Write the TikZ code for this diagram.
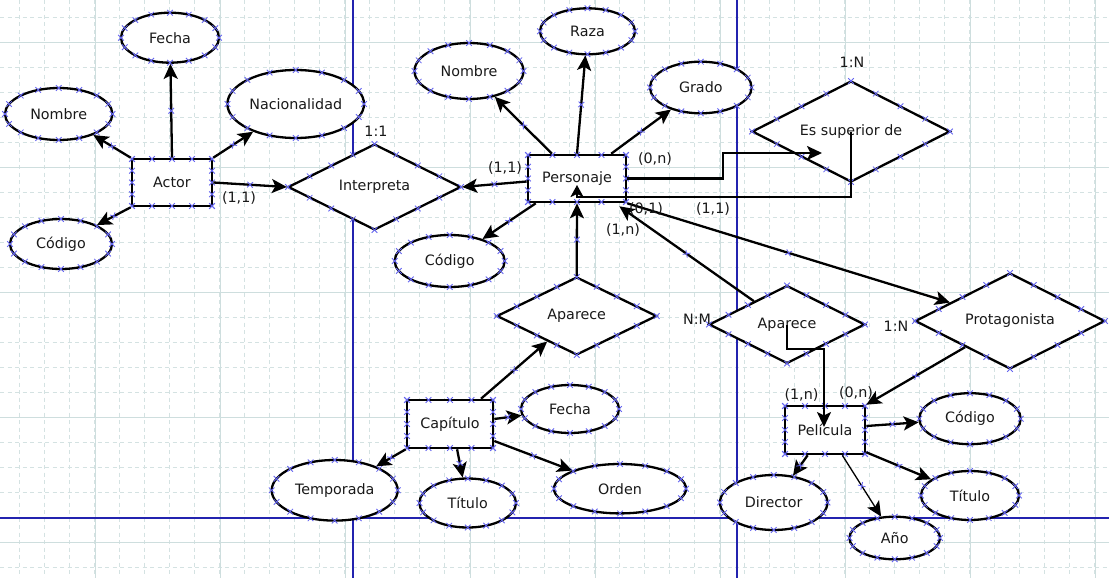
\documentclass[tikz,border=0pt]{standalone}
\usepackage{fontspec}
\setmainfont{DejaVu Sans}
\usetikzlibrary{shapes.geometric,arrows.meta,calc,decorations.markings}
\definecolor{gridc}{RGB}{206,222,222}
\definecolor{griddc}{RGB}{212,226,226}
\definecolor{pageb}{RGB}{35,35,175}
\definecolor{markc}{RGB}{100,100,240}
\tikzset{
  xmark/.style={draw=markc,line width=0.85pt,-,solid},
  xm/.pic={\draw[xmark] (-2.8pt,-2.8pt)--(2.8pt,2.8pt) (-2.8pt,2.8pt)--(2.8pt,-2.8pt);},
  txt/.style={font=\fontsize{14.3}{17}\selectfont, text=black!90},
  attr/.style={ellipse, draw, line width=2.3pt, fill=white, inner sep=0pt, txt},
  ent/.style={rectangle, draw, line width=2.6pt, fill=white, inner sep=0pt, txt},
  rel/.style={diamond, aspect=2, draw, line width=2.3pt, fill=white, inner sep=0pt, txt},
  lab/.style={inner sep=0pt, txt},
  arr/.style={line width=2.3pt, -{Stealth[length=15pt,width=14pt,inset=3.5pt]}},
  mx/.style={postaction={decorate,decoration={markings,mark=at position 0.5 with {\draw[xmark] (-2.8pt,-2.8pt)--(2.8pt,2.8pt) (-2.8pt,2.8pt)--(2.8pt,-2.8pt);}}}},
  gridsolid/.style={draw=gridc,line width=0.9pt},
  griddash/.style={draw=griddc,line width=0.8pt,dash pattern=on 4pt off 3.5pt},
}
\newcommand\myell[6]{%
  \node[attr,minimum width={2*#4},minimum height={2*#5}] (#1) at (#2,#3) {#6};
  \foreach \t in {0,22.5,...,337.5} \pic at ({#2+#4*cos(\t)},{#3+#5*sin(\t)}) {xm};}
\newcommand\myrect[6]{%
  \node[ent,minimum width={#4},minimum height={#5}] (#1) at (#2,#3) {#6};
  \foreach \i in {0,1,2,3,4} {
    \pic at ({#2-#4/2+#4*\i/4},{#3-#5/2}) {xm};
    \pic at ({#2-#4/2+#4*\i/4},{#3+#5/2}) {xm};
    \pic at ({#2-#4/2},{#3-#5/2+#5*\i/4}) {xm};
    \pic at ({#2+#4/2},{#3-#5/2+#5*\i/4}) {xm};}}
\newcommand\mydia[6]{%
  \node[rel,minimum width={2*#4},minimum height={2*#5}] (#1) at (#2,#3) {#6};
  \foreach \j in {0,1,2,3} {
    \pic at ({#2+#4*(1-\j/4)},{#3-#5*\j/4}) {xm};
    \pic at ({#2-#4*\j/4},{#3-#5*(1-\j/4)}) {xm};
    \pic at ({#2-#4*(1-\j/4)},{#3+#5*\j/4}) {xm};
    \pic at ({#2+#4*\j/4},{#3+#5*(1-\j/4)}) {xm};}}
\begin{document}
\begin{tikzpicture}[x=1pt,y=-1pt]
\fill[white] (0,0) rectangle (1109,578);
\useasboundingbox (0,0) rectangle (1109,578);
% grid
\foreach \i in {0,...,44} \draw[griddash] ({19.5+25*\i},0) -- ({19.5+25*\i},578);
\foreach \i in {0,...,23} \draw[griddash] (0,{17.3+25*\i}) -- (1109,{17.3+25*\i});
\foreach \i in {0,...,8} \draw[gridsolid] ({95+125*\i},0) -- ({95+125*\i},578);
\foreach \i in {0,...,4} \draw[gridsolid] (0,{42.3+125*\i}) -- (1109,{42.3+125*\i});
% page breaks
\draw[pageb,line width=1.3pt] (353,0) -- (353,578) (737,0) -- (737,578) (0,518) -- (1109,518);

% entities
\myrect{actor}{172}{182.5}{80}{47}{Actor}
\myrect{pers}{577}{178.5}{98}{47}{Personaje}
\myrect{cap}{450}{424}{86}{48}{Capítulo}
\myrect{pel}{825}{430}{80}{48}{Película}

% attributes
\myell{afecha}{170}{37.7}{49}{25}{Fecha}
\myell{anombre}{58.7}{114}{53.7}{26}{Nombre}
\myell{anac}{295.7}{104}{68.3}{34}{Nacionalidad}
\myell{acod}{61}{244}{51}{25}{Código}
\myell{pnombre}{469}{71}{54.5}{28}{Nombre}
\myell{praza}{587.5}{31.3}{47.5}{23}{Raza}
\myell{pgrado}{700.8}{87.5}{50.8}{25.8}{Grado}
\myell{pcod}{449.7}{261}{55}{26}{Código}
\myell{cfecha}{570}{409}{49}{24}{Fecha}
\myell{corden}{620}{488.7}{66}{24.7}{Orden}
\myell{ctit}{467.7}{503}{48.3}{24.5}{Título}
\myell{ctemp}{334.7}{490.3}{63}{30.3}{Temporada}
\myell{mcod}{970}{418.7}{50.7}{25.5}{Código}
\myell{mtit}{970}{495.5}{49}{24.5}{Título}
\myell{mano}{894.7}{538}{45.3}{21.3}{Año}
\myell{mdir}{773.7}{502.5}{53.7}{27.5}{Director}

% relationships
\mydia{interp}{374.5}{187}{86.5}{43}{Interpreta}
\mydia{esup}{851}{131.5}{99}{50.5}{Es superior de}
\mydia{apar1}{576.7}{316}{80}{39}{Aparece}
\mydia{apar2}{787}{324.5}{78}{39}{Aparece}
\mydia{prot}{1010}{321}{95}{48}{Protagonista}

% connectors: Actor
\draw[arr,mx] (actor.north) -- (afecha);
\draw[arr,mx] (actor.north west) -- (anombre);
\draw[arr,mx] (actor.north east) -- (anac);
\draw[arr,mx] (actor.south west) -- (acod);
\draw[arr,mx] (actor.east) -- (interp.west);
% Personaje
\draw[arr,mx] ([yshift=-3pt]pers.west) -- (interp.east);
\draw[arr,mx] ($(pers.north west)!0.25!(pers.north east)$) -- (pnombre);
\draw[arr,mx] (pers.north) -- (praza);
\draw[arr,mx] ($(pers.north west)!0.84!(pers.north east)$) -- (pgrado);
\draw[arr,mx] ($(pers.south west)!0.09!(pers.south east)$) -- (pcod);
\coordinate (b1) at (723,153);
\coordinate (esin) at (822,153);
\draw[arr] (pers.east) -| (b1) -- (esin);
\coordinate (b2) at (851,197);
\coordinate (persin) at (577,185);
\draw[line width=2.3pt,-{Stealth[length=12pt,width=13pt,inset=3pt]}] (esup.center) -- (b2) -| (persin);
\draw[arr,mx] (pers.south east) -- (prot);
\draw[arr,mx] (apar2) -- ([xshift=-8pt,yshift=-3pt]pers.south east);
\draw[arr,mx] (apar1.north) -- (pers.south);
% Pelicula
\coordinate (b3) at (787,349);
\coordinate (pelin) at (824,427);
\draw[arr] (apar2.center) -- (b3) -| (pelin);
\draw[arr,mx] (prot) -- (pel.north east);
\draw[arr,mx] ([yshift=4pt]pel.east) -- (mcod);
\draw[arr,mx] ([yshift=3pt]pel.south east) -- (mtit);
\draw[arr,mx,line width=1.3pt] ($(pel.south west)!0.71!(pel.south east)$) -- (mano);
\draw[arr,mx] ($(pel.south west)!0.29!(pel.south east)$) -- (mdir);
% Capitulo
\draw[arr,mx] ($(cap.north west)!0.85!(cap.north east)$) -- (apar1);
\draw[arr,mx] ([yshift=5pt]cap.east) -- (cfecha);
\draw[arr,mx] ([yshift=-17pt]cap.east) -- (corden);
\draw[arr,mx] ($(cap.south west)!0.58!(cap.south east)$) -- (ctit);
\draw[arr,mx] (cap.south west) -- (ctemp);

% labels
\node[lab] (l1) at (239,198) {(1,1)};
\node[lab] (l2) at (376,131) {1:1};
\node[lab] (l3) at (505,168) {(1,1)};
\node[lab] (l4) at (655,159) {(0,n)};
\node[lab] (l5) at (852,62) {1:N};
\node[lab] (l6) at (646,209.5) {(0,1)};
\node[lab] (l7) at (713,209) {(1,1)};
\node[lab] (l8) at (623,230.5) {(1,n)};
\node[lab] (l9) at (697,319) {N:M};
\node[lab] (l10) at (896,326) {1:N};
\node[lab] (l11) at (801.5,395) {(1,n)};
\node[lab] (l12) at (856,393) {(0,n)};
\end{tikzpicture}
\end{document}
